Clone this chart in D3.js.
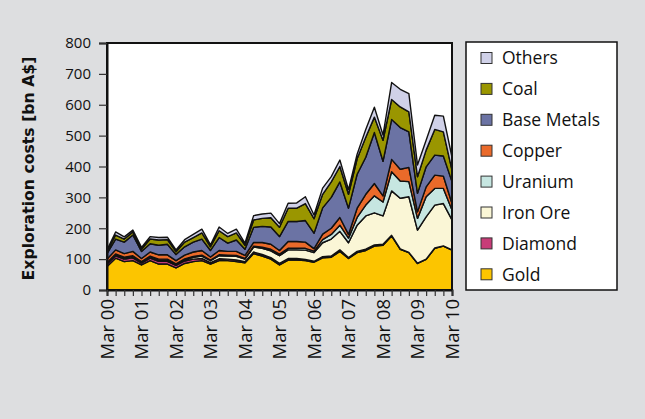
<!DOCTYPE html>
<html><head><meta charset="utf-8">
<script src="https://cdn.jsdelivr.net/npm/d3@7/dist/d3.min.js"></script>
<style>html,body{margin:0;padding:0;background:#dddee0;} svg{display:block;}</style>
</head><body><svg id="c" width="645" height="419"></svg>
<script>
const quarters = [
 "Mar 00","Jun 00","Sep 00","Dec 00","Mar 01","Jun 01","Sep 01","Dec 01",
 "Mar 02","Jun 02","Sep 02","Dec 02","Mar 03","Jun 03","Sep 03","Dec 03",
 "Mar 04","Jun 04","Sep 04","Dec 04","Mar 05","Jun 05","Sep 05","Dec 05",
 "Mar 06","Jun 06","Sep 06","Dec 06","Mar 07","Jun 07","Sep 07","Dec 07",
 "Mar 08","Jun 08","Sep 08","Dec 08","Mar 09","Jun 09","Sep 09","Dec 09","Mar 10"];
const tickLabels = ["Mar 00","Mar 01","Mar 02","Mar 03","Mar 04","Mar 05","Mar 06","Mar 07","Mar 08","Mar 09","Mar 10"];
const yTicks = [0,100,200,300,400,500,600,700,800];

const gold       = [76,103,92,95,81,95,84,84,72,86,92,95,84,95,95,92,88,118,110,100,81,97,97,95,90,104,106,125,102,121,128,142,145,175,132,121,86,99,135,142,129];
const diamond    = [8,8,8,9,6,8,9,9,8,8,8,7,5,6,5,5,4,5,5,5,5,5,5,4,3,4,4,5,3,4,4,4,3,2,1,1,1,1,1,1,1];
const ironOre    = [2,3,3,4,3,4,4,4,3,4,6,8,6,10,10,12,8,16,20,22,25,28,28,30,28,45,55,60,48,85,108,104,92,144,164,180,107,137,139,137,97];
const uranium    = [2,3,3,3,2,3,3,3,2,3,3,3,2,3,3,3,2,3,4,5,5,5,5,6,5,10,15,20,15,25,35,55,45,62,56,49,38,65,54,49,32];
const copper     = [12,13,12,14,10,13,14,14,10,12,14,15,10,14,12,13,10,12,15,16,12,22,22,20,8,18,20,25,12,30,35,40,20,40,38,46,21,32,43,40,21];
const baseMetals = [18,35,37,53,23,27,31,34,20,27,32,37,21,42,27,37,20,49,52,56,45,65,65,70,50,85,100,115,85,110,120,165,112,129,135,115,60,65,65,65,71];
const coal       = [6,13,10,10,7,15,17,15,9,15,15,20,12,22,21,23,13,24,26,30,30,43,43,55,47,44,50,50,45,50,65,50,68,65,67,65,54,54,83,78,37];
const others     = [6,10,7,6,6,8,8,8,6,8,10,12,6,12,10,12,7,14,14,15,12,16,17,22,12,20,17,21,15,15,25,32,17,55,57,59,38,32,46,51,42];

const seriesNames = ["Gold","Diamond","Iron Ore","Uranium","Copper","Base Metals","Coal","Others"];
const seriesData  = [gold, diamond, ironOre, uranium, copper, baseMetals, coal, others];
const colors      = ["#fcc500","#c83c78","#faf6d6","#c6e6e1","#ea6a2a","#6b73a4","#9a9600","#d0d1e8"];

const L = 107, R = 452, T = 43, B = 290;
const svg = d3.select("#c");
const FONT = "'Open Sans', sans-serif";

const rows = quarters.map((q, i) => {
  const r = {q};
  seriesNames.forEach((n, k) => r[n] = seriesData[k][i]);
  return r;
});
const stacked = d3.stack().keys(seriesNames)(rows);

const x = d3.scalePoint().domain(quarters).range([L, R]);
const y = d3.scaleLinear().domain([0, 800]).range([B, T]);

svg.append("rect").attr("x", L).attr("y", T).attr("width", R - L).attr("height", B - T).attr("fill", "#fff");

const area = d3.area().x(d => x(d.data.q)).y0(d => y(d[0])).y1(d => y(d[1]));
svg.append("g").selectAll("path").data(stacked).join("path")
  .attr("d", area)
  .attr("fill", (d, i) => colors[i])
  .attr("stroke", "#111")
  .attr("stroke-width", 1.4)
  .attr("stroke-linejoin", "round");

svg.append("rect").attr("x", L).attr("y", T).attr("width", R - L).attr("height", B - T)
  .attr("fill", "none").attr("stroke", "#111").attr("stroke-width", 2);

const yAxis = svg.append("g").attr("transform", `translate(${L},0)`)
  .call(d3.axisLeft(y).tickValues(yTicks).tickSize(8).tickPadding(8));
yAxis.selectAll("text").attr("font-family", FONT).attr("font-size", 15).attr("fill", "#111");
yAxis.selectAll("line").attr("stroke", "#333").attr("stroke-width", 1.2);
yAxis.select(".domain").attr("stroke", "#111").attr("stroke-width", 2);

const xAxis = svg.append("g").attr("transform", `translate(0,${B})`)
  .call(d3.axisBottom(x).tickSize(6).tickFormat(d => tickLabels.includes(d) ? d : ""));
xAxis.select(".domain").attr("stroke", "#111").attr("stroke-width", 2);
xAxis.selectAll("line").attr("stroke", "#333").attr("stroke-width", 1.2);
xAxis.selectAll("text")
  .attr("font-family", FONT).attr("font-size", 18.5).attr("fill", "#111")
  .attr("text-anchor", "end")
  .attr("transform", "rotate(-90)")
  .attr("x", -9).attr("y", 0).attr("dy", "0.35em");

svg.append("text")
  .attr("transform", `translate(34,${(T + B) / 2 + 2}) rotate(-90)`)
  .attr("text-anchor", "middle")
  .attr("font-family", "'DejaVu Sans', sans-serif").attr("font-weight", "bold").attr("font-size", 15.7).attr("fill", "#111")
  .text("Exploration costs [bn A$]");

// legend
const lg = svg.append("g");
lg.append("rect").attr("x", 466).attr("y", 42).attr("width", 151).attr("height", 248)
  .attr("fill", "#fff").attr("stroke", "#111").attr("stroke-width", 1.5);
const legendOrder = seriesNames.map((n, i) => ({n, c: colors[i]})).reverse();
const items = lg.selectAll("g.it").data(legendOrder).join("g").attr("class", "it")
  .attr("transform", (d, i) => `translate(0,${58 + i * 30.9})`);
items.append("rect").attr("x", 481).attr("y", -5.5).attr("width", 11).attr("height", 11)
  .attr("fill", d => d.c).attr("stroke", "#333").attr("stroke-width", 1);
items.append("text").attr("x", 502).attr("y", 0).attr("dy", "0.36em")
  .attr("font-family", FONT).attr("font-size", 17.5).attr("fill", "#111")
  .text(d => d.n);
</script></body></html>
